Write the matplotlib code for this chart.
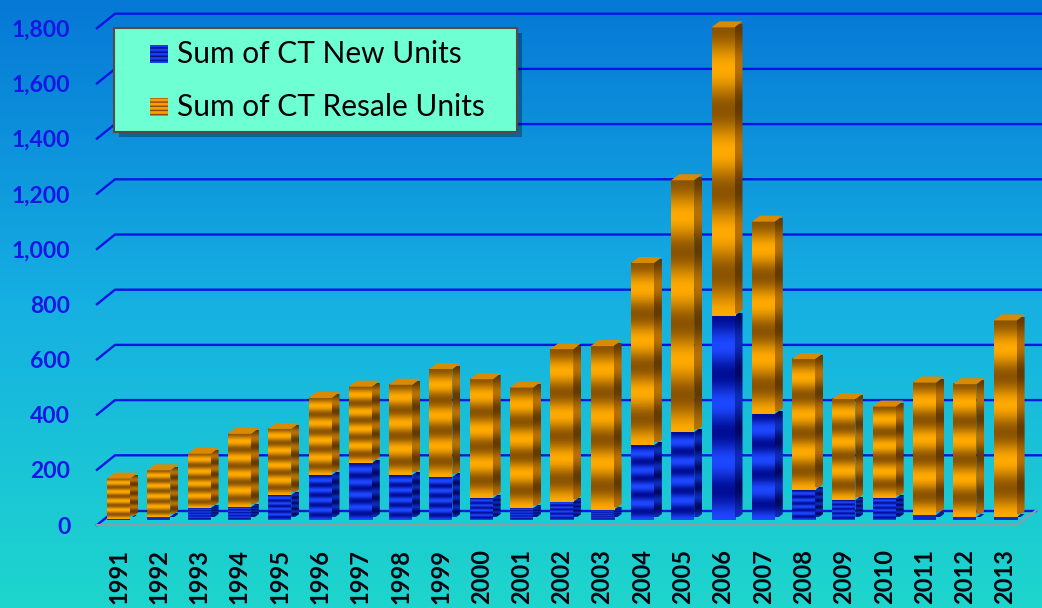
import numpy as np
import matplotlib
matplotlib.use("Agg")
import matplotlib.pyplot as plt
from matplotlib.patches import Polygon, Rectangle

# ---------------- data ----------------
years = ["1991", "1992", "1993", "1994", "1995", "1996", "1997", "1998", "1999", "2000",
         "2001", "2002", "2003", "2004", "2005", "2006", "2007", "2008", "2009", "2010",
         "2011", "2012", "2013"]
new_units = [5, 12, 42, 46, 90, 162, 206, 162, 156, 78, 42, 66, 36, 270, 318, 739,
             384, 108, 72, 78, 18, 10, 10]
resale_units = [145, 168, 198, 266, 240, 280, 277, 328, 391, 432, 438, 553, 594, 661,
                913, 1046, 697, 475, 366, 333, 480, 482, 713]
series_names = ["Sum of CT New Units", "Sum of CT Resale Units"]
y_ticks = [0, 200, 400, 600, 800, 1000, 1200, 1400, 1600, 1800]
y_tick_labels = ["0", "200", "400", "600", "800", "1,000", "1,200", "1,400", "1,600", "1,800"]

# ---------------- geometry (pixels) ----------------
W, H = 1042, 608
fig = plt.figure(figsize=(W / 100, H / 100), dpi=100)

# background gradient
bg = fig.add_axes([0, 0, 1, 1], zorder=-10)
stops_y = np.array([0.0, 0.5, 1.0])
stops_c = np.array([[6, 120, 214], [22, 176, 226], [30, 214, 204]]) / 255.0
yy = np.linspace(0, 1, 400)
grad = np.stack([np.interp(yy, stops_y, stops_c[:, c]) for c in range(3)], axis=1)
bg.imshow(grad[:, None, :], aspect="auto", extent=[0, 1, 1, 0], interpolation="bilinear")
bg.set_xlim(0, 1); bg.set_ylim(1, 0)
bg.axis("off")

ax_l, ax_r, ax_t, ax_b = 80, 1042, 0, 545
ax = fig.add_axes([ax_l / W, 1 - ax_b / H, (ax_r - ax_l) / W, (ax_b - ax_t) / H])
ax.patch.set_alpha(0)

k = 0.276          # px per unit (vertical)
zero_px = 525      # px of value 0 on wall front
c0, step = 118.5, 40.3  # px of first bar centre, px per category

def px_x(p):
    return (p - c0) / step

bar_base = 5 / k
bar_w = 23 / step
side_dx = 8 / step
side_dy = 6 / k

# wall gridlines
wall_front_x = px_x(97)
wall_back_x = px_x(115)
rise = 14.5 / k
grid_col = "#0814e4"
for v in y_ticks:
    if v == 0:
        ax.plot([wall_front_x, wall_back_x], [v, v + rise], color=grid_col, lw=1.7, zorder=1)
        ax.plot([wall_back_x, px_x(1036)], [v + rise, v + rise], color=grid_col, lw=1.7, zorder=1)
    else:
        ax.plot([wall_front_x, wall_back_x, px_x(1045)], [v, v + rise, v + rise],
                color=grid_col, lw=1.7, zorder=1, clip_on=False)
# floor outline
ax.plot([wall_front_x, px_x(1017), px_x(1036)], [0, 0, rise], color="#8c9ca8", lw=1.6, zorder=1.5)

def stripes(dark, bright, cycles, n=240):
    t = np.linspace(0, 1, n)
    s = 0.5 + 0.5 * np.cos(2 * np.pi * cycles * t)
    dark = np.array(dark) / 255.0
    bright = np.array(bright) / 255.0
    img = dark[None, :] + (bright - dark)[None, :] * s[:, None]
    return img[:, None, :]

styles = {
    "new": dict(front=((0, 14, 150), (30, 72, 255)), side=((0, 8, 100), (14, 44, 185))),
    "res": dict(front=((140, 84, 0), (255, 170, 0)), side=((100, 58, 0), (185, 112, 0))),
}
top_color = "#d98a00"

for i in range(len(years)):
    x = i
    segs = [(0, new_units[i], "new"), (new_units[i], resale_units[i], "res")]
    for j, (cum, val, key) in enumerate(segs):
        if val <= 0:
            continue
        b = bar_base + cum
        t = b + val
        st = styles[key]
        hpx = val * k
        cyc = 4.5 if hpx < 90 else 3.5
        ax.imshow(stripes(*st["front"], cyc), extent=[x - bar_w / 2, x + bar_w / 2, b, t],
                  origin="lower", aspect="auto", interpolation="bilinear", zorder=3)
        xr = x + bar_w / 2
        poly = Polygon([(xr, b), (xr + side_dx, b + side_dy), (xr + side_dx, t + side_dy), (xr, t)],
                       closed=True, transform=ax.transData)
        im = ax.imshow(stripes(*st["side"], cyc), extent=[xr, xr + side_dx, b + side_dy * 0.5, t + side_dy * 0.5],
                       origin="lower", aspect="auto", interpolation="bilinear", zorder=3)
        im.set_clip_path(poly)
        if j == len(segs) - 1:
            ax.add_patch(Polygon([(x - bar_w / 2, t), (x + bar_w / 2, t),
                                  (x + bar_w / 2 + side_dx, t + side_dy),
                                  (x - bar_w / 2 + side_dx, t + side_dy)],
                                 closed=True, facecolor=top_color, edgecolor="none", zorder=3.5))

ax.set_ylim(-(ax_b - zero_px) / k, (zero_px - ax_t) / k)
ax.set_xlim((ax_l - c0) / step, (ax_r - c0) / step)
ax.set_aspect("auto")

for s in ax.spines.values():
    s.set_visible(False)
ax.set_yticks(y_ticks)
ax.set_yticklabels(y_tick_labels, fontfamily="Lato", fontweight="bold", fontsize=16.5, color="#1616e6")
ax.set_xticks(range(len(years)))
ax.set_xticklabels(years, rotation=90, fontfamily="Lato", fontweight="bold", fontsize=17, color="#050510")
ax.tick_params(axis="y", length=0, pad=7)
ax.tick_params(axis="x", length=0, pad=3)

# ---------------- legend (manual) ----------------
def fx(p): return p / W
def fy(p): return 1 - p / H

lx0, ly0, lx1, ly1 = 114, 28, 517, 132
fig.patches.append(Rectangle((fx(lx0 + 5), fy(ly1 + 5)), fx(lx1 - lx0), (ly1 - ly0) / H,
                             transform=fig.transFigure, facecolor=(0, 0, 0, 0.3), edgecolor="none", zorder=20))
fig.patches.append(Rectangle((fx(lx0), fy(ly1)), fx(lx1 - lx0), (ly1 - ly0) / H,
                             transform=fig.transFigure, facecolor="#6effd2", edgecolor="#5a4848",
                             lw=1.5, zorder=21))
marker_cols = [("#1a3cf0", "#001080"), ("#f5a000", "#8a5000")]
row_y = [54, 107]
for name, ry, (fc, hc) in zip(series_names, row_y, marker_cols):
    fig.patches.append(Rectangle((fx(150), fy(ry + 9)), fx(18), 18 / H, transform=fig.transFigure,
                                 facecolor=fc, edgecolor=hc, hatch="----", lw=0, zorder=22))
    fig.text(fx(177), fy(ry), name, fontfamily="Lato", fontsize=21.5, color="black",
             va="center", ha="left", zorder=23)

fig.savefig("out.png", dpi=100)
